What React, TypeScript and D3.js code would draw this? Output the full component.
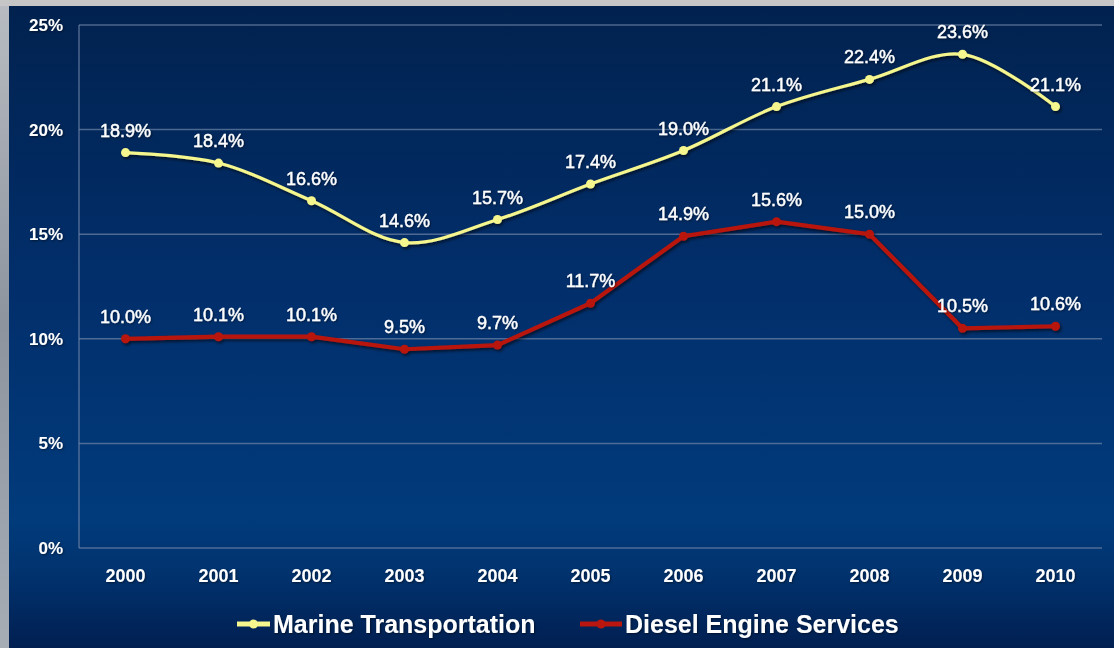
import React from 'react';
import * as d3 from 'd3';

const years = ['2000', '2001', '2002', '2003', '2004', '2005', '2006', '2007', '2008', '2009', '2010'];
const marine = [18.9, 18.4, 16.6, 14.6, 15.7, 17.4, 19.0, 21.1, 22.4, 23.6, 21.1];
const diesel = [10.0, 10.1, 10.1, 9.5, 9.7, 11.7, 14.9, 15.6, 15.0, 10.5, 10.6];
const yTicks = [0, 5, 10, 15, 20, 25];

const W = 1114;
const H = 648;
const left = 79;
const right = 1102;
const top = 25;
const bottom = 548;

const font = 'Arial, "Liberation Sans", Helvetica, sans-serif';

const App = () => {
  // scales
  const x = d3.scaleBand().domain(years).range([left, right]);
  const cx = (d: string) => (x(d) as number) + x.bandwidth() / 2;
  const y = d3.scaleLinear().domain([0, 25]).range([bottom, top]);

  const marineLine = d3
    .line<number>()
    .x((_, i) => cx(years[i]))
    .y((d) => y(d))
    .curve(d3.curveCatmullRom.alpha(0.5));

  const dieselLine = d3
    .line<number>()
    .x((_, i) => cx(years[i]))
    .y((d) => y(d));

  const series = [
    { name: 'Marine Transportation', values: marine, color: '#f6f68e', path: marineLine, width: 3.2 },
    { name: 'Diesel Engine Services', values: diesel, color: '#b8160f', path: dieselLine, width: 4.2 },
  ];

  return (
    <svg width={W} height={H} style={{ position: 'absolute', left: 0, top: 0 }}>
      <defs>
        <linearGradient id="bg" x1="0" y1="0" x2="0" y2="1">
          <stop offset="0%" stopColor="#01224f" />
          <stop offset="45%" stopColor="#022f6c" />
          <stop offset="80%" stopColor="#013b7b" />
          <stop offset="88%" stopColor="#01336f" />
          <stop offset="100%" stopColor="#011f51" />
        </linearGradient>
        <linearGradient id="strip" x1="0" y1="0" x2="0" y2="1">
          <stop offset="0%" stopColor="#b8bcc2" />
          <stop offset="50%" stopColor="#8d949e" />
          <stop offset="100%" stopColor="#a7adb5" />
        </linearGradient>
        <filter id="shadow" x="-5%" y="-20%" width="110%" height="140%">
          <feDropShadow dx="1.5" dy="2" stdDeviation="1.5" floodColor="#000" floodOpacity="0.6" />
        </filter>
        <filter id="tshadow">
          <feDropShadow dx="1" dy="1" stdDeviation="0.8" floodColor="#000" floodOpacity="0.5" />
        </filter>
      </defs>

      <rect x={0} y={0} width={W} height={H} fill="url(#strip)" />
      <rect x={0} y={0} width={W} height={6} fill="#c6c6c6" />
      <rect x={9} y={6} width={W - 9} height={H - 6} fill="url(#bg)" />

      {/* gridlines */}
      {yTicks.map((t) => (
        <line key={t} x1={left} x2={right} y1={y(t)} y2={y(t)} stroke="#6f84a6" strokeOpacity={0.7} strokeWidth={1.5} />
      ))}
      <line x1={left} x2={left} y1={top} y2={bottom} stroke="#6f84a6" strokeOpacity={0.7} strokeWidth={1.5} />

      {/* y axis labels */}
      {yTicks.map((t) => (
        <text
          key={t}
          x={63}
          y={y(t) + 6}
          textAnchor="end"
          fill="#fff"
          fontFamily={font}
          fontWeight="bold"
          fontSize={17}
          filter="url(#tshadow)"
        >
          {t}%
        </text>
      ))}

      {/* x axis labels */}
      {years.map((yr) => (
        <text
          key={yr}
          x={cx(yr)}
          y={582}
          textAnchor="middle"
          fill="#fff"
          fontFamily={font}
          fontWeight="bold"
          fontSize={18}
          filter="url(#tshadow)"
        >
          {yr}
        </text>
      ))}

      {/* lines */}
      {series.map((s) => (
        <g key={s.name} filter="url(#shadow)">
          <path d={s.path(s.values) as string} fill="none" stroke={s.color} strokeWidth={s.width} />
          {s.values.map((v, i) => (
            <circle key={i} cx={cx(years[i])} cy={y(v)} r={4.5} fill={s.color} />
          ))}
        </g>
      ))}

      {/* data labels */}
      {series.map((s) =>
        s.values.map((v, i) => (
          <text
            key={s.name + i}
            x={cx(years[i])}
            y={y(v) - 16}
            textAnchor="middle"
            fill="#fff"
            stroke="#fff"
            strokeWidth={0.4}
            fontFamily={font}
            fontSize={18}
            filter="url(#tshadow)"
          >
            {v.toFixed(1)}%
          </text>
        ))
      )}

      {/* legend */}
      {[
        { s: series[0], x0: 237, x1: 270, tx: 273 },
        { s: series[1], x0: 580, x1: 622, tx: 625 },
      ].map(({ s, x0, x1, tx }) => (
        <g key={s.name}>
          <line x1={x0} x2={x1} y1={624} y2={624} stroke={s.color} strokeWidth={5} />
          <circle cx={(x0 + x1) / 2} cy={624} r={4.5} fill={s.color} />
          <text x={tx} y={633} fill="#fff" fontFamily={font} fontWeight="bold" fontSize={25} filter="url(#tshadow)">
            {s.name}
          </text>
        </g>
      ))}
    </svg>
  );
};

export default App;
